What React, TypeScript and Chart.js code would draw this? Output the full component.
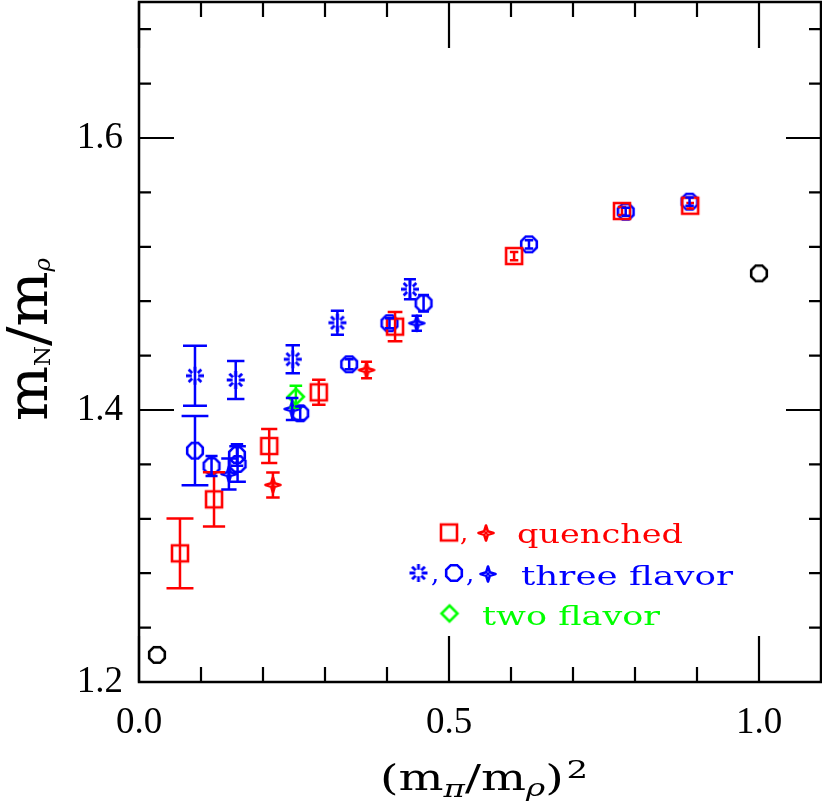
import React, { useEffect, useRef } from "react";
import { Chart, registerables } from "chart.js";

Chart.register(...registerables);

// ---------------- data ----------------
const xTickValues = [0, 0.5, 1.0];
const yTickValues = [1.2, 1.4, 1.6];
const xMinorTicks = [0.1, 0.2, 0.3, 0.4, 0.6, 0.7, 0.8, 0.9];
const yMinorTicks = [1.24, 1.28, 1.32, 1.36, 1.44, 1.48, 1.52, 1.56, 1.64, 1.68];

// quenched (squares)
const quenchedSquareX = [0.0661, 0.121, 0.21, 0.29, 0.413, 0.605, 0.779, 0.889];
const quenchedSquareY = [1.2946, 1.3343, 1.3735, 1.413, 1.4613, 1.5132, 1.5463, 1.5502];
const quenchedSquareErr = [0.0257, 0.0199, 0.0125, 0.0092, 0.0107, 0.003, 0.003, 0.002];

// quenched (4-point stars)
const quenchedStarX = [0.216, 0.367];
const quenchedStarY = [1.3449, 1.4294];
const quenchedStarErr = [0.0092, 0.0061];

// three flavor (bursts)
const threeBurstX = [0.0903, 0.156, 0.248, 0.32, 0.437];
const threeBurstY = [1.4252, 1.4221, 1.4373, 1.4642, 1.4888];
const threeBurstErr = [0.022, 0.014, 0.0103, 0.0088, 0.0074];

// three flavor (octagons)
const threeOctX = [0.0903, 0.117, 0.158, 0.159, 0.26, 0.339, 0.404, 0.459, 0.629, 0.785, 0.888];
const threeOctY = [1.3701, 1.3588, 1.3669, 1.3603, 1.3976, 1.4336, 1.4638, 1.4785, 1.5218, 1.5458, 1.5532];
const threeOctErr = [0.0255, 0.0074, 0.0079, 0.013, 0.005, 0.0037, 0.0037, 0.006, 0.003, 0.003, 0.003];

// three flavor (4-point stars)
const threeStarX = [0.145, 0.247, 0.448];
const threeStarY = [1.3529, 1.4007, 1.4638];
const threeStarErr = [0.0114, 0.0081, 0.0055];

// two flavor (diamond)
const twoDiamondX = [0.253];
const twoDiamondY = [1.4098];
const twoDiamondErr = [0.0081];

// other (black octagons)
const otherOctX = [0.029, 1.0];
const otherOctY = [1.2199, 1.5005];

const legendQuenched = "quenched";
const legendThree = "three flavor";
const legendTwo = "two flavor";

// ---------------- styles ----------------
const RED = "#ff0000";
const BLUE = "#0000ff";
const GREEN = "#00ff00";
const BLACK = "#000000";
const SERIF = '"DejaVu Serif", serif';

function zip(xs: number[], ys: number[]) {
  return xs.map((x, i) => ({ x, y: ys[i] }));
}

function makeMarker(kind: string, color: string): HTMLCanvasElement {
  const S = 30;
  const c = document.createElement("canvas");
  c.width = S;
  c.height = S;
  const g = c.getContext("2d")!;
  const m = S / 2;
  g.strokeStyle = color;
  g.fillStyle = color;
  g.lineWidth = 2.6;
  g.lineJoin = "miter";
  g.lineCap = "butt";
  g.beginPath();
  if (kind === "square") {
    g.rect(m - 8, m - 8, 16, 16);
  } else if (kind === "octagon") {
    const R = 7.8 / Math.cos(Math.PI / 8);
    for (let k = 0; k < 8; k++) {
      const a = Math.PI / 8 + (k * Math.PI) / 4;
      const px = m + R * Math.cos(a);
      const py = m + R * Math.sin(a);
      if (k === 0) g.moveTo(px, py);
      else g.lineTo(px, py);
    }
    g.closePath();
  } else if (kind === "burst") {
    g.lineWidth = 2.8;
    for (let k = 0; k < 8; k++) {
      const a = (k * Math.PI) / 4;
      const r0 = k % 2 === 0 ? 3.2 : 4;
      g.moveTo(m + r0 * Math.cos(a), m + r0 * Math.sin(a));
      g.lineTo(m + 9 * Math.cos(a), m + 9 * Math.sin(a));
    }
  } else if (kind === "star") {
    g.lineJoin = "round";
    for (let k = 0; k < 8; k++) {
      const a = (k * Math.PI) / 4 - Math.PI / 2;
      const r = k % 2 === 0 ? 7.5 : 2.5;
      const px = m + r * Math.cos(a);
      const py = m + r * Math.sin(a);
      if (k === 0) g.moveTo(px, py);
      else g.lineTo(px, py);
    }
    g.closePath();
  } else if (kind === "diamond") {
    g.moveTo(m, m - 8);
    g.lineTo(m + 8, m);
    g.lineTo(m, m + 8);
    g.lineTo(m - 8, m);
    g.closePath();
  }
  g.stroke();
  if (kind === "star") {
    g.beginPath();
    g.arc(m, m, 1.7, 0, Math.PI * 2);
    g.fill();
  }
  return c;
}

type Part = { t: string; font: string; dy: number; gap?: number };

function drawRich(ctx: CanvasRenderingContext2D, parts: Part[], targetWidth: number) {
  const widths = parts.map((p) => {
    ctx.font = p.font;
    return ctx.measureText(p.t).width + (p.gap || 0);
  });
  const natural = widths.reduce((a, b) => a + b, 0);
  const sx = targetWidth / natural;
  ctx.save();
  ctx.scale(sx, 1);
  let cx = 0;
  parts.forEach((p, i) => {
    ctx.font = p.font;
    ctx.fillText(p.t, cx, p.dy);
    cx += widths[i];
  });
  ctx.restore();
}

function drawScaledText(
  ctx: CanvasRenderingContext2D,
  text: string,
  font: string,
  x: number,
  y: number,
  targetWidth: number
) {
  ctx.save();
  ctx.font = font;
  const w = ctx.measureText(text).width;
  ctx.translate(x, y);
  ctx.scale(targetWidth / w, 1);
  ctx.fillText(text, 0, 0);
  ctx.restore();
}

const noPad = (s: any) => {
  s.paddingTop = 0;
  s.paddingBottom = 0;
  s.paddingLeft = 0;
  s.paddingRight = 0;
};

export default function App() {
  const ref = useRef<HTMLCanvasElement | null>(null);

  useEffect(() => {
    document.body.style.margin = "0";
    const canvas = ref.current;
    if (!canvas) return;

    const mk = {
      sqRed: makeMarker("square", RED),
      starRed: makeMarker("star", RED),
      burstBlue: makeMarker("burst", BLUE),
      octBlue: makeMarker("octagon", BLUE),
      starBlue: makeMarker("star", BLUE),
      diaGreen: makeMarker("diamond", GREEN),
      octBlack: makeMarker("octagon", BLACK),
    };

    const errorBars = {
      id: "errorBars",
      afterDatasetsDraw(chart: any) {
        const ctx = chart.ctx as CanvasRenderingContext2D;
        const ys = chart.scales.y;
        chart.data.datasets.forEach((ds: any, i: number) => {
          if (!ds.errors) return;
          const meta = chart.getDatasetMeta(i);
          ctx.save();
          ctx.strokeStyle = ds.errColor;
          ctx.lineWidth = 2.5;
          ctx.lineCap = "butt";
          meta.data.forEach((el: any, j: number) => {
            const p = ds.data[j];
            const e = ds.errors[j];
            const x = el.x;
            const y1 = ys.getPixelForValue(p.y + e);
            const y2 = ys.getPixelForValue(p.y - e);
            const cap = 3 + (y2 - y1) * 0.15;
            ctx.beginPath();
            ctx.moveTo(x, y1);
            ctx.lineTo(x, y2);
            ctx.moveTo(x - cap, y1);
            ctx.lineTo(x + cap, y1);
            ctx.moveTo(x - cap, y2);
            ctx.lineTo(x + cap, y2);
            ctx.stroke();
          });
          ctx.restore();
        });
      },
    };

    const frame = {
      id: "frameTicks",
      afterDraw(chart: any) {
        const ctx = chart.ctx as CanvasRenderingContext2D;
        const a = chart.chartArea;
        const xs = chart.scales.x;
        const ys = chart.scales.y;
        ctx.save();
        ctx.strokeStyle = BLACK;
        ctx.lineWidth = 2.5;
        ctx.strokeRect(a.left, a.top, a.right - a.left, a.bottom - a.top);
        ctx.lineWidth = 2.2;
        ctx.beginPath();
        const xt = (v: number, len: number) => {
          const px = xs.getPixelForValue(v);
          ctx.moveTo(px, a.bottom);
          ctx.lineTo(px, a.bottom - len);
          ctx.moveTo(px, a.top);
          ctx.lineTo(px, a.top + len);
        };
        const yt = (v: number, len: number) => {
          const py = ys.getPixelForValue(v);
          ctx.moveTo(a.left, py);
          ctx.lineTo(a.left + len, py);
          ctx.moveTo(a.right, py);
          ctx.lineTo(a.right - len, py);
        };
        xTickValues.forEach((v) => xt(v, 46));
        xMinorTicks.forEach((v) => xt(v, 15));
        yTickValues.forEach((v) => yt(v, 35));
        yMinorTicks.forEach((v) => yt(v, 12));
        ctx.stroke();
        ctx.restore();

        // axis titles
        ctx.save();
        ctx.fillStyle = BLACK;
        ctx.textBaseline = "alphabetic";
        ctx.translate(380, 790);
        drawRich(
          ctx,
          [
            { t: "(", font: `35px ${SERIF}`, dy: 0 },
            { t: "m", font: `35px ${SERIF}`, dy: 0 },
            { t: "π", font: `italic 24px ${SERIF}`, dy: 7 },
            { t: "/", font: `35px ${SERIF}`, dy: 0 },
            { t: "m", font: `35px ${SERIF}`, dy: 0 },
            { t: "ρ", font: `italic 24px ${SERIF}`, dy: 6 },
            { t: ")", font: `35px ${SERIF}`, dy: 0, gap: 2 },
            { t: "2", font: `25px ${SERIF}`, dy: -12 },
          ],
          208
        );
        ctx.restore();

        ctx.save();
        ctx.fillStyle = BLACK;
        ctx.translate(47, 421);
        ctx.rotate(-Math.PI / 2);
        drawRich(
          ctx,
          [
            { t: "m", font: `56px ${SERIF}`, dy: 0 },
            { t: "N", font: `22px ${SERIF}`, dy: 3 },
            { t: "/", font: `56px ${SERIF}`, dy: 0 },
            { t: "m", font: `56px ${SERIF}`, dy: 0 },
            { t: "ρ", font: `italic 22px ${SERIF}`, dy: 3 },
          ],
          163
        );
        ctx.restore();

        // legend
        ctx.save();
        const put = (c: HTMLCanvasElement, x: number, y: number) =>
          ctx.drawImage(c, x - c.width / 2, y - c.height / 2);
        const lf = `26px ${SERIF}`;
        ctx.font = lf;
        // line 1
        put(mk.sqRed, 449, 532.5);
        ctx.fillStyle = RED;
        ctx.fillText(",", 460, 541);
        put(mk.starRed, 486, 533);
        drawScaledText(ctx, legendQuenched, lf, 517, 543, 166);
        // line 2
        put(mk.burstBlue, 418.5, 573);
        ctx.fillStyle = BLUE;
        ctx.font = lf;
        ctx.fillText(",", 431, 582);
        put(mk.octBlue, 454, 573);
        ctx.fillText(",", 466, 582);
        put(mk.starBlue, 488, 574);
        drawScaledText(ctx, legendThree, lf, 521, 585, 212);
        // line 3
        put(mk.diaGreen, 449.5, 613.5);
        ctx.fillStyle = GREEN;
        drawScaledText(ctx, legendTwo, lf, 482, 625, 178);
        ctx.restore();
      },
    };

    const ds = (data: any[], style: HTMLCanvasElement, errors: number[] | null, errColor: string) => ({
      data,
      pointStyle: style,
      pointRadius: 8,
      showLine: false,
      errors,
      errColor,
    });

    const chart = new Chart(canvas, {
      type: "scatter",
      data: {
        datasets: [
          ds(zip(quenchedSquareX, quenchedSquareY), mk.sqRed, quenchedSquareErr, RED),
          ds(zip(quenchedStarX, quenchedStarY), mk.starRed, quenchedStarErr, RED),
          ds(zip(twoDiamondX, twoDiamondY), mk.diaGreen, twoDiamondErr, GREEN),
          ds(zip(threeOctX, threeOctY), mk.octBlue, threeOctErr, BLUE),
          ds(zip(threeBurstX, threeBurstY), mk.burstBlue, threeBurstErr, BLUE),
          ds(zip(threeStarX, threeStarY), mk.starBlue, threeStarErr, BLUE),
          ds(zip(otherOctX, otherOctY), mk.octBlack, null, BLACK),
        ] as any,
      },
      options: {
        animation: false,
        responsive: false,
        events: [],
        layout: { autoPadding: false, padding: { top: 2, right: 1, left: 0, bottom: 0 } },
        plugins: { legend: { display: false }, tooltip: { enabled: false } },
        scales: {
          x: {
            type: "linear",
            min: 0,
            max: 1.1,
            afterFit: (s: any) => {
              s.height = 127;
              noPad(s);
            },
            afterBuildTicks: (s: any) => {
              s.ticks = xTickValues.map((v) => ({ value: v }));
            },
            grid: { display: false, drawTicks: false },
            border: { display: false },
            ticks: {
              font: { family: '"Liberation Serif", serif', size: 37 },
              color: BLACK,
              padding: 19,
              maxRotation: 0,
              autoSkip: false,
              callback: (v: any) => Number(v).toFixed(1),
            },
          },
          y: {
            type: "linear",
            min: 1.2,
            max: 1.7,
            afterFit: (s: any) => {
              s.width = 139;
              noPad(s);
            },
            afterBuildTicks: (s: any) => {
              s.ticks = yTickValues.map((v) => ({ value: v }));
            },
            grid: { display: false, drawTicks: false },
            border: { display: false },
            ticks: {
              font: { family: '"Liberation Serif", serif', size: 37 },
              color: BLACK,
              padding: 16,
              autoSkip: false,
              callback: (v: any) => Number(v).toFixed(1),
            },
          },
        },
      } as any,
      plugins: [errorBars, frame],
    });

    return () => chart.destroy();
  }, []);

  return <canvas ref={ref} width={822} height={809} style={{ display: "block" }} />;
}
